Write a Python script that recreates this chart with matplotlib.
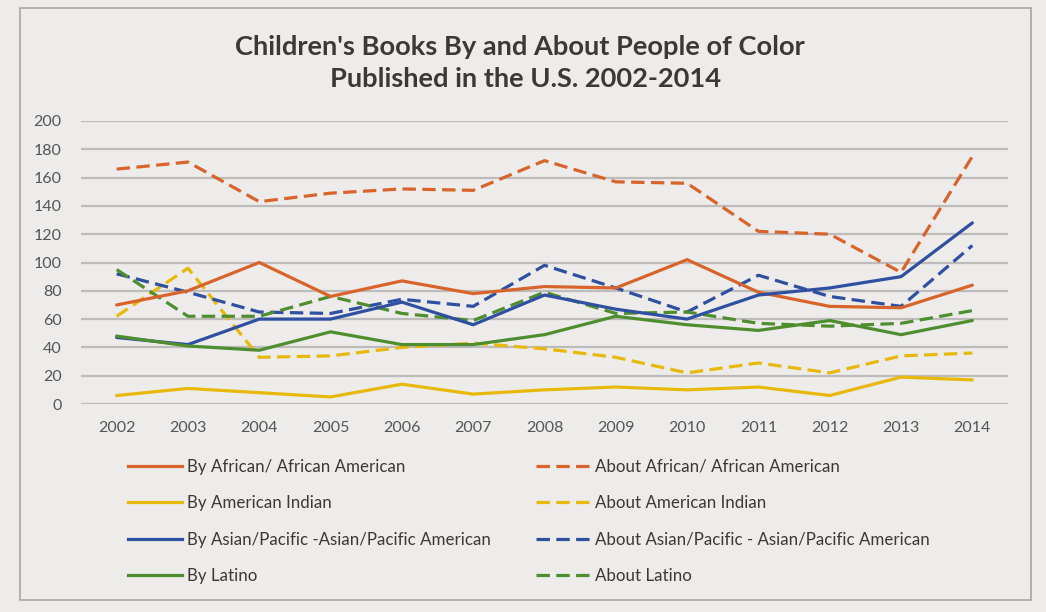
import matplotlib.pyplot as plt
from matplotlib.lines import Line2D
from matplotlib.patches import Rectangle

# data
years = ["2002", "2003", "2004", "2005", "2006", "2007", "2008",
         "2009", "2010", "2011", "2012", "2013", "2014"]

by_african = [70, 80, 100, 76, 87, 78, 83, 82, 102, 79, 69, 68, 84]
about_african = [166, 171, 143, 149, 152, 151, 172, 157, 156, 122, 120, 93, 175]
by_indian = [6, 11, 8, 5, 14, 7, 10, 12, 10, 12, 6, 19, 17]
about_indian = [62, 96, 33, 34, 40, 43, 39, 33, 22, 29, 22, 34, 36]
by_asian = [47, 42, 60, 60, 72, 56, 77, 67, 60, 77, 82, 90, 128]
about_asian = [92, 79, 65, 64, 74, 69, 98, 82, 65, 91, 76, 69, 112]
by_latino = [48, 41, 38, 51, 42, 42, 49, 62, 56, 52, 59, 49, 59]
about_latino = [95, 62, 62, 76, 64, 59, 79, 64, 65, 57, 55, 57, 66]

labels_by = ["By African/ African American", "By American Indian",
             "By Asian/Pacific -Asian/Pacific American", "By Latino"]
labels_about = ["About African/ African American", "About American Indian",
                "About Asian/Pacific - Asian/Pacific American", "About Latino"]

orange = "#d9642b"
yellow = "#e8b80a"
blue = "#2f4fa0"
green = "#4e8e2f"
bg = "#edecea"

plt.rcParams['font.family'] = ['Lato', 'DejaVu Sans']

fig = plt.figure(figsize=(10.46, 6.12), dpi=100, facecolor=bg)
ax = fig.add_axes([81 / 1046, 1 - 404 / 612, 927 / 1046, 283 / 612])
ax.set_facecolor(bg)

x = list(range(len(years)))
lw = 2.3
dash = (0, (4.2, 2.0))

by_series = [(by_african, orange), (by_indian, yellow), (by_asian, blue), (by_latino, green)]
about_series = [(about_african, orange), (about_indian, yellow), (about_asian, blue), (about_latino, green)]

for vals, col in about_series:
    ax.plot(x, vals, color=col, lw=lw, linestyle=dash, dash_capstyle='butt')
for vals, col in by_series:
    ax.plot(x, vals, color=col, lw=lw, solid_capstyle='round')

ax.set_xlim(-0.5, len(years) - 0.5)
ax.set_ylim(0, 200)
ax.set_yticks(range(0, 201, 20))
ax.set_xticks(x)
ax.set_xticklabels(years)
ax.grid(axis='y', color='#bdbcbb', lw=1.6)
ax.set_axisbelow(True)
for s in ax.spines.values():
    s.set_visible(False)
ax.tick_params(axis='both', length=0, labelsize=11.5, colors='#555555')
ax.tick_params(axis='y', pad=14)
ax.tick_params(axis='x', pad=12)

fig.text(0.497, 1 - 47 / 612, "Children's Books By and About People of Color",
         ha='center', va='center', fontsize=19.6, fontweight='bold', color='#3c3835')
fig.text(0.502, 1 - 79 / 612, "Published in the U.S. 2002-2014",
         ha='center', va='center', fontsize=19.6, fontweight='bold', color='#3c3835')

h_by = [Line2D([], [], color=c, lw=lw) for _, c in by_series]
h_about = [Line2D([], [], color=c, lw=lw, linestyle=dash) for _, c in about_series]

leg_kw = dict(loc='upper left', frameon=False, fontsize=12.2, handlelength=3.2,
              handletextpad=0.3, labelspacing=1.2, borderaxespad=0, borderpad=0,
              labelcolor='#3c3835')
fig.legend(h_by, labels_by, bbox_to_anchor=(128 / 1046, 1 - 459 / 612), **leg_kw)
fig.legend(h_about, labels_about, bbox_to_anchor=(536 / 1046, 1 - 459 / 612), **leg_kw)

fig.patches.append(Rectangle((20 / 1046, 1 - 600 / 612), 1011 / 1046, 592 / 612,
                             transform=fig.transFigure, fill=False,
                             edgecolor='#a8a6a4', lw=1.2))

fig.savefig("out.png", dpi=100, facecolor=bg)
